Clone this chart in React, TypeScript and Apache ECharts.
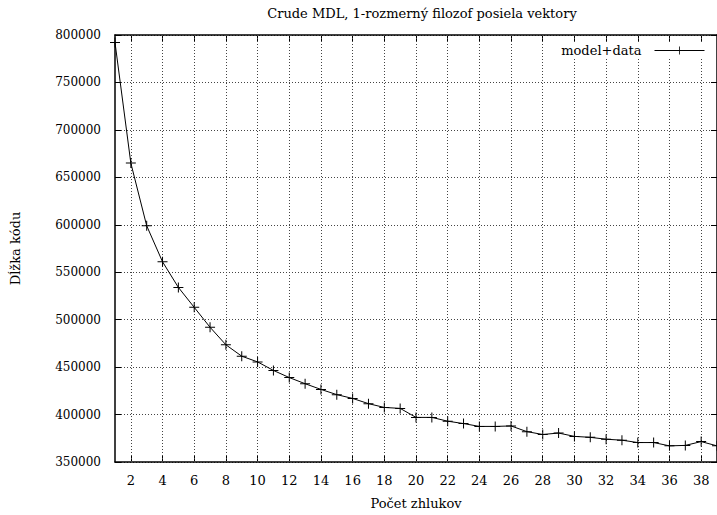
import React, { useEffect, useRef } from "react";
import * as echarts from "echarts";

const clusters = [1,2,3,4,5,6,7,8,9,10,11,12,13,14,15,16,17,18,19,20,21,22,23,24,25,26,27,28,29,30,31,32,33,34,35,36,37,38,39];
const codeLength = [792000, 665000, 599000, 561000, 534000, 513000, 492000, 473500, 461500, 455500, 446500, 439000, 432500, 426500, 421000, 417000, 411500, 407500, 406500, 397000, 397000, 393000, 390500, 387500, 387500, 388000, 382000, 379000, 380500, 377000, 376000, 374000, 373000, 370500, 370500, 367000, 367500, 371500, 367000];
const xTicks = [2,4,6,8,10,12,14,16,18,20,22,24,26,28,30,32,34,36,38];
const seriesName = "model+data";
const titleText = "Crude MDL, 1-rozmerný filozof posiela vektory";
const xName = "Počet zhlukov";
const yName = "Dĺžka kódu";

const FONT = "DejaVu Serif";
const PLUS = "path://M0,4.5H10V5.5H0Z M4.5,0H5.5V10H4.5Z";

export default function App() {
  const ref = useRef<HTMLDivElement>(null);
  useEffect(() => {
    if (!ref.current) return;
    const chart = echarts.init(ref.current, null, { renderer: "svg" });
    const grid = { left: 115, top: 35, right: -2, bottom: 48, containLabel: false };
    const dotted = { color: "#444", type: [1, 2] as any, width: 1 };
    chart.setOption({
      animation: false,
      backgroundColor: "#fff",
      title: {
        text: titleText,
        left: 417,
        top: 2,
        textAlign: "center",
        textStyle: { fontFamily: FONT, fontSize: 13, fontWeight: "normal", color: "#000" },
      },
      legend: {
        right: 12,
        top: 42,
        align: "right",
        itemWidth: 50,
        itemHeight: 10,
        itemGap: 10,
        lineStyle: { width: 1, color: "#000" },
        textStyle: { fontFamily: FONT, fontSize: 13, color: "#000", padding: [0, 8, 0, 0] },
        data: [{ name: seriesName }],
        backgroundColor: "#fff",
        padding: [2, 0, 2, 4],
      },
      grid,
      xAxis: [
        {
          type: "value",
          min: 1,
          max: 39,
          name: xName,
          nameLocation: "middle",
          nameGap: 35,
          nameTextStyle: { fontFamily: FONT, fontSize: 13, color: "#000" },
          axisLine: { show: true, onZero: false, lineStyle: { color: "#000", width: 1.5 } },
          axisTick: { show: true, inside: true, length: 6, customValues: xTicks, lineStyle: { color: "#000" } },
          axisLabel: { fontFamily: FONT, fontSize: 13, color: "#000", margin: 12, customValues: xTicks },
          splitLine: { show: false },
        },
        {
          type: "value",
          position: "top",
          min: 1,
          max: 39,
          axisLine: { show: true, onZero: false, lineStyle: { color: "#000", width: 1.5 } },
          axisTick: { show: true, inside: true, length: 6, customValues: xTicks, lineStyle: { color: "#000" } },
          axisLabel: { show: false },
          splitLine: { show: false },
        },
      ],
      yAxis: [
        {
          type: "value",
          min: 350000,
          max: 800000,
          interval: 50000,
          name: yName,
          nameLocation: "middle",
          nameGap: 93,
          nameRotate: 90,
          nameTextStyle: { fontFamily: FONT, fontSize: 13, color: "#000" },
          axisLine: { show: true, onZero: false, lineStyle: { color: "#000", width: 1.5 } },
          axisTick: { show: true, inside: true, length: 6, lineStyle: { color: "#000" } },
          axisLabel: { fontFamily: FONT, fontSize: 12, color: "#000", margin: 14, formatter: (v: number) => String(v) },
          splitLine: { show: true, lineStyle: dotted },
        },
        {
          type: "value",
          position: "right",
          min: 350000,
          max: 800000,
          interval: 50000,
          axisLine: { show: true, onZero: false, lineStyle: { color: "#000", width: 1.5 } },
          axisTick: { show: true, inside: true, length: 6, lineStyle: { color: "#000" } },
          axisLabel: { show: false },
          splitLine: { show: false },
        },
      ],
      series: [
        {
          name: seriesName,
          type: "line",
          xAxisIndex: 0,
          yAxisIndex: 0,
          z: 3,
          data: clusters.map((c, i) => [c, codeLength[i]]),
          symbol: PLUS,
          symbolSize: 10,
          showAllSymbol: true,
          lineStyle: { color: "#000", width: 1 },
          itemStyle: { color: "#000" },
          emphasis: { disabled: true },
          markLine: {
            silent: true,
            symbol: "none",
            label: { show: false },
            lineStyle: dotted,
            z: 1,
            data: xTicks.map((t) => ({ xAxis: t })),
          },
        },
      ],
    });
    return () => chart.dispose();
  }, []);
  return <div ref={ref} style={{ width: 717, height: 515, position: "absolute", left: 0, top: 0 }} />;
}
